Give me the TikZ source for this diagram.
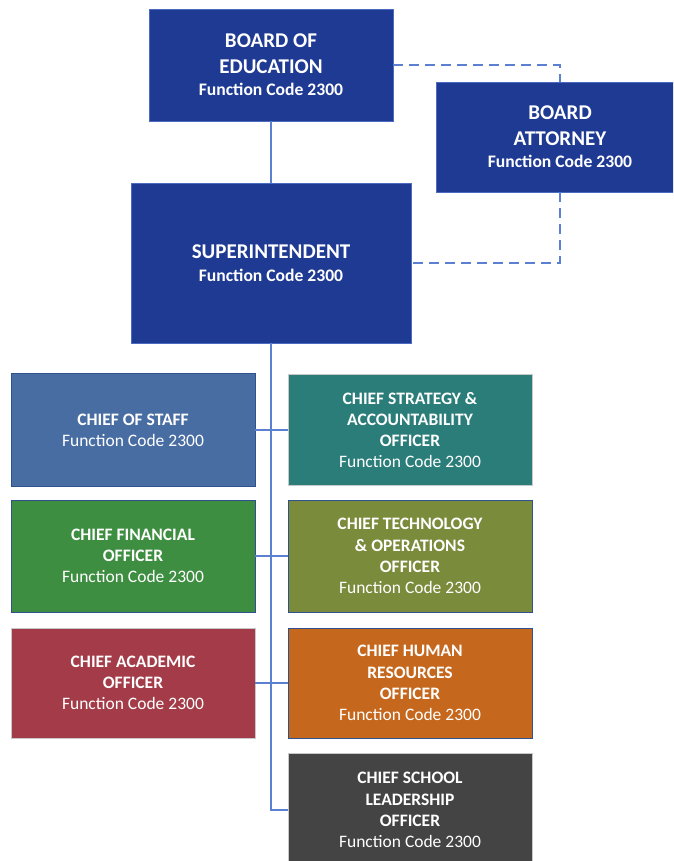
\documentclass[tikz,border=0pt]{standalone}
\usepackage{fontspec}
\setmainfont{Carlito}
\definecolor{navy}{HTML}{1F3A93}
\definecolor{navyedge}{HTML}{4A6BC0}
\definecolor{staffc}{HTML}{486DA3}
\definecolor{tealc}{HTML}{2A7D79}
\definecolor{greenc}{HTML}{3E8E41}
\definecolor{olivec}{HTML}{7A8B3B}
\definecolor{acadc}{HTML}{A33C48}
\definecolor{hrc}{HTML}{C5681E}
\definecolor{schoolc}{HTML}{444444}
\definecolor{darkedge}{HTML}{2F528F}
\definecolor{grayedge}{HTML}{C8C8C8}
\definecolor{linec}{HTML}{5B80D2}
\begin{document}
\begin{tikzpicture}[x=1pt,y=-1pt,
  topbox/.style={rectangle, fill=navy, draw=navyedge, line width=0.8pt, text=white,
    align=center, inner sep=0pt, font=\fontsize{21}{25.5}\selectfont\bfseries},
  kidbox/.style={rectangle, minimum width=244pt, text=white, align=center,
    inner sep=0pt, line width=0.8pt, font=\fontsize{17.5}{21.3}\selectfont\bfseries},
  conn/.style={draw=linec, line width=1.3pt},
  dconn/.style={conn, dash pattern=on 10pt off 6pt}]
\useasboundingbox (0,0) rectangle (673,861);
\clip (0,0) rectangle (673,861);
\fill[white] (0,0) rectangle (673,861);

% top level
\node[topbox, minimum width=244pt, minimum height=112pt] (boe) at (271,65)
  {BOARD OF\\EDUCATION\\[-3pt]{\fontsize{17.6}{20}\selectfont Function Code 2300}};
\node[topbox, minimum width=248pt, minimum height=110pt] (att) at (560,137)
  {BOARD\\ATTORNEY\\[-3pt]{\fontsize{17.6}{20}\selectfont Function Code 2300}};
\node[topbox, minimum width=280pt, minimum height=160pt] (sup) at (271,263)
  {SUPERINTENDENT\\[-2pt]{\fontsize{17.6}{20}\selectfont Function Code 2300}};

% chiefs
\node[kidbox, fill=staffc, draw=darkedge, minimum height=113pt] (staff) at (133,430)
  {CHIEF OF STAFF\\{\mdseries Function Code 2300}};
\node[kidbox, fill=tealc, draw=grayedge, minimum height=111pt] (strat) at (410,430)
  {CHIEF STRATEGY \&\\ACCOUNTABILITY\\OFFICER\\{\mdseries Function Code 2300}};
\node[kidbox, fill=greenc, draw=darkedge, minimum height=112pt] (fin) at (133,556)
  {CHIEF FINANCIAL\\OFFICER\\{\mdseries Function Code 2300}};
\node[kidbox, fill=olivec, draw=darkedge, minimum height=112pt] (tech) at (410,556)
  {CHIEF TECHNOLOGY\\\& OPERATIONS\\OFFICER\\{\mdseries Function Code 2300}};
\node[kidbox, fill=acadc, draw=grayedge, minimum height=110pt] (acad) at (133,683)
  {CHIEF ACADEMIC\\OFFICER\\{\mdseries Function Code 2300}};
\node[kidbox, fill=hrc, draw=darkedge, minimum height=110pt] (hr) at (410,683)
  {CHIEF HUMAN\\RESOURCES\\OFFICER\\{\mdseries Function Code 2300}};
\node[kidbox, fill=schoolc, draw=grayedge, minimum height=114pt] (school) at (410,810)
  {CHIEF SCHOOL\\LEADERSHIP\\OFFICER\\{\mdseries Function Code 2300}};

% connectors
\draw[conn] (boe.south) -- (sup.north);
\draw[dconn] (boe.east) -- (att.north |- boe.east) -- (att.north);
\draw[dconn] (att.south) -- (att.south |- sup.east) -- (sup.east);
\draw[conn] (sup.south) -- (sup.south |- school.west) -- (school.west);
\draw[conn] (staff.east) -- (strat.west);
\draw[conn] (fin.east) -- (tech.west);
\draw[conn] (acad.east) -- (hr.west);
\end{tikzpicture}
\end{document}
